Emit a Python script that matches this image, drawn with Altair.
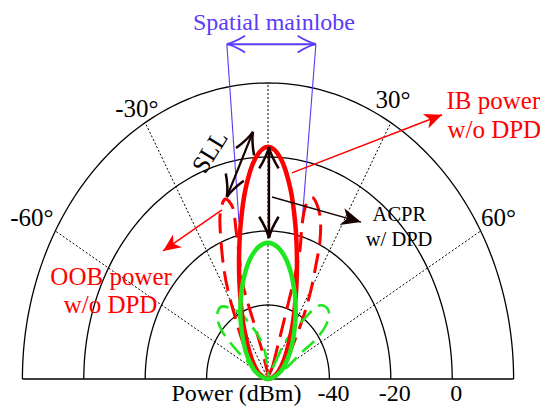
import altair as alt
import numpy as np
import pandas as pd

# ---------------- data ----------------
POLE = -60                       # dBm at the pole of the polar plot
ring_power = [-40, -20, 0, 20]   # dBm rings
tick_power = [-40, -20, 0]
tick_text = ["-40", "-20", "0"]
spoke_angle = [-60, -30, 0, 30, 60]

angle_text = ["-60°", "-30°", "30°", "60°"]
angle_x = [-76.9, -42.7, 40.7, 75.1]
angle_y = [43.5, 73.1, 75.3, 43.4]

# in-band main lobe without DPD (red, solid)
ib_angle = [-90, -65, -50, -40, -30, -25, -20, -16, -12, -8, -4, 0, 4, 8, 12, 16, 20, 25, 30, 40, 50, 65]
ib_power = [-60, -57.1, -54.1, -50.7, -44.5, -39.6, -32.9, -25.8, -17.2, -7.9, -0.3, 2.8,
            -0.3, -7.9, -17.2, -25.8, -32.9, -39.6, -44.5, -50.7, -54.1, -57.1]
# in-band main lobe with DPD (green, solid)
dpd_angle = [-90, -65, -50, -40, -30, -25, -20, -15, -10, -5, 0, 5, 10, 15, 20, 25, 30, 40, 50, 65]
dpd_power = [-60, -55.7, -51.7, -47.8, -42.2, -38.7, -34.8, -30.7, -26.9, -24.2, -23.2,
             -24.2, -26.9, -30.7, -34.8, -38.7, -42.2, -47.8, -51.7, -55.7]
# out-of-band lobes without DPD (red, dashed)
oobL_angle = [-20, -59.9, -48.7, -38.8, -33.2, -29.2, -25.9, -22.2, -19.4, -16.1, -13.9, -14.5,
              -15.7, -17.6, -17.8, -17.0, -15.5, -12.9]
oobL_power = [-60, -56.2, -52.2, -46.5, -41.0, -34.0, -27.2, -19.4, -13.0, -9.4, -12.4, -18.4,
              -25.2, -31.9, -37.6, -43.3, -49.1, -54.2]
oobR_angle = [20, 23.3, 19.5, 18.5, 17.8, 17.4, 16.6, 14.9, 14.7, 16.7, 20.9, 24.3, 26.9, 30.2,
              34.1, 39.8, 51.9, 72.8]
oobR_power = [-60, -55.9, -50.3, -44.6, -37.6, -30.6, -23.6, -16.9, -11.4, -8.9, -12.6, -18.8,
              -25.5, -32.2, -39.1, -46.3, -52.6, -57.3]
# out-of-band lobes with DPD (green, dashed)
acpL_angle = [-30, -56.5, -54.4, -52.0, -49.1, -44.7, -38.2, -32.8, -27.1, -21.5, -14.5, -7.6, -5.3]
acpL_power = [-60, -56.1, -51.2, -45.5, -40.2, -36.4, -35.2, -37.2, -40.0, -44.0, -48.3, -52.6, -56.5]
acpR_angle = [40, 27.8, 28.7, 32.1, 36.2, 38.8, 42.7, 48.1, 52.9, 55.6, 57.0, 63.1]
acpR_power = [-60, -55.1, -49.8, -44.7, -39.6, -35.0, -33.1, -33.3, -36.7, -41.8, -47.6, -53.4]

# annotation anchors (plot units)
arrow_name = ["ib_gap", "sll", "acpr", "ib", "oob", "beam"]
arrow_x0 = [0.3, -4.9, 1.3, 7.8, -15.0, -13.4]
arrow_y0 = [62.7, 66.8, 49.2, 55.7, 45.7, 90.5]
arrow_x1 = [0.3, -13.4, 30.3, 56.7, -34.2, 15.6]
arrow_y1 = [38.1, 49.2, 42.4, 71.4, 34.6, 90.5]
beam_x0 = [-13.4, 15.6]
beam_y0 = [90.5, 90.5]
beam_x1 = [-9.45, 11.1]
beam_y1 = [42.4, 42.4]

BOTTOM_Y = -5.9   # baseline of the bottom labels (plot units)
text_items = [
    ("Spatial mainlobe", 1.95, 94.3, "#5a3cf5", 24),
    ("IB power", 73.4, 73.0, "#ff0000", 25),
    ("w/o DPD", 73.7, 65.2, "#ff0000", 25),
    ("OOB power", -51.1, 25.4, "#ff0000", 25),
    ("w/o DPD", -51.3, 17.8, "#ff0000", 25),
    ("ACPR", 42.8, 42.7, "#000000", 20.5),
    ("w/ DPD", 42.7, 35.9, "#000000", 20.5),
    ("Power (dBm)", -10.3, BOTTOM_Y, "#000000", 24),
]
sll_text = ("SLL", -18.9, 61.4)

# ---------------- geometry helpers ----------------
W, H = 532, 398
XD = [-84.69, 88.60]
YD = [-7.30, 100.27]
KX = W / (XD[1] - XD[0])
KY = H / (YD[1] - YD[0])
XS = alt.Scale(domain=XD, nice=False, zero=False)
YS = alt.Scale(domain=YD, nice=False, zero=False)
FONT = "Liberation Serif, Times New Roman, serif"


def X(f="x"):
    return alt.X(f"{f}:Q", scale=XS, axis=None)


def Y(f="y"):
    return alt.Y(f"{f}:Q", scale=YS, axis=None)


def polar(angles, powers, name):
    r = np.array(powers, float) - POLE
    t = np.radians(np.array(angles, float))
    return pd.DataFrame({"x": r * np.sin(t), "y": r * np.cos(t),
                         "i": np.arange(len(r)), "s": name})


def head_angle(x0, y0, x1, y1):
    return float(np.degrees(np.arctan2((x1 - x0) * KX, (y1 - y0) * KY)) % 360)


# rings
arc = np.linspace(-90, 90, 181)
ring_df = pd.concat([polar(arc, [p] * len(arc), str(p)) for p in ring_power])
rings = alt.Chart(ring_df).mark_line(color="black", strokeWidth=1.3).encode(
    x=X(), y=Y(), detail="s:N", order="i:Q")

# spokes
rmax = ring_power[-1] - POLE
sp = pd.DataFrame({"a": spoke_angle})
sp["x"] = 0.0
sp["y"] = 0.0
sp["x2"] = rmax * np.sin(np.radians(sp["a"]))
sp["y2"] = rmax * np.cos(np.radians(sp["a"]))
spokes = alt.Chart(sp).mark_rule(color="black", strokeWidth=1, strokeDash=[2, 2]).encode(
    x=X(), y=Y(), x2="x2:Q", y2="y2:Q")

base_df = pd.DataFrame({"x": [-rmax], "y": [0.0], "x2": [rmax], "y2": [0.0]})
baseline = alt.Chart(base_df).mark_rule(color="black", strokeWidth=1.5).encode(
    x=X(), y=Y(), x2="x2:Q", y2="y2:Q")

# tick labels
tk = pd.DataFrame({"x": np.array(tick_power, float) - POLE, "y": BOTTOM_Y, "t": tick_text})
ticks = alt.Chart(tk).mark_text(font=FONT, fontSize=24, dx=4, baseline="alphabetic",
                                align="center", color="black").encode(x=X(), y=Y(), text="t:N")

al = pd.DataFrame({"x": angle_x, "y": angle_y, "t": angle_text})
alabels = alt.Chart(al).mark_text(font=FONT, fontSize=25, baseline="middle",
                                  align="center", color="black").encode(x=X(), y=Y(), text="t:N")

# lobes
red_dash_df = pd.concat([polar(oobL_angle, oobL_power, "L"), polar(oobR_angle, oobR_power, "R")])
grn_dash_df = pd.concat([polar(acpL_angle, acpL_power, "L"), polar(acpR_angle, acpR_power, "R")])
red_dash = alt.Chart(red_dash_df).mark_line(
    color="#ff0000", strokeWidth=3, strokeDash=[20, 9], interpolate="cardinal-closed").encode(
    x=X(), y=Y(), detail="s:N", order="i:Q")
grn_dash = alt.Chart(grn_dash_df).mark_line(
    color="#1fe61f", strokeWidth=2.6, strokeDash=[16, 8], interpolate="cardinal-closed").encode(
    x=X(), y=Y(), detail="s:N", order="i:Q")
red_main = alt.Chart(polar(ib_angle, ib_power, "ib")).mark_line(
    color="#ff0000", strokeWidth=4.5, interpolate="cardinal-closed").encode(
    x=X(), y=Y(), order="i:Q")
grn_main = alt.Chart(polar(dpd_angle, dpd_power, "dpd")).mark_line(
    color="#1fe61f", strokeWidth=4.5, interpolate="cardinal-closed").encode(
    x=X(), y=Y(), order="i:Q")

# arrows
ar = pd.DataFrame({"n": arrow_name, "x": arrow_x0, "y": arrow_y0, "x2": arrow_x1, "y2": arrow_y1})
ar["c"] = ["#180000", "#180000", "#180000", "#ff0000", "#ff0000", "#5a3cf5"]
ar["w"] = [2.5, 2.2, 1.5, 1.5, 1.5, 2.0]
shafts = alt.Chart(ar).mark_rule().encode(
    x=X(), y=Y(), x2="x2:Q", y2="y2:Q",
    color=alt.Color("c:N", scale=None), strokeWidth=alt.StrokeWidth("w:Q", scale=None))

bm = pd.DataFrame({"x": beam_x0, "y": beam_y0, "x2": beam_x1, "y2": beam_y1})
beams = alt.Chart(bm).mark_rule(color="#5a3cf5", strokeWidth=1.1).encode(
    x=X(), y=Y(), x2="x2:Q", y2="y2:Q")

CHEV = "M -0.5 1.1 Q -0.1 0.45 0 0 Q 0.1 0.45 0.5 1.1"
HEAD = "M 0 0 L 0.55 1.25 L 0 0.9 L -0.55 1.25 Z"

chev_rows = []
for n, x0, y0, x1, y1 in zip(arrow_name, arrow_x0, arrow_y0, arrow_x1, arrow_y1):
    if n in ("ib_gap", "sll", "beam"):
        c = "#5a3cf5" if n == "beam" else "#180000"
        s = 1100 if n == "beam" else 1500
        w = 1.8 if n == "beam" else 2.5
        chev_rows.append((x1, y1, head_angle(x0, y0, x1, y1), c, s, w))
        chev_rows.append((x0, y0, head_angle(x1, y1, x0, y0), c, s, w))
ch = pd.DataFrame(chev_rows, columns=["x", "y", "a", "c", "s", "w"])
chevrons = alt.Chart(ch).mark_point(shape=CHEV, filled=False, opacity=1).encode(
    x=X(), y=Y(), angle=alt.Angle("a:Q", scale=None),
    stroke=alt.Stroke("c:N", scale=None), size=alt.Size("s:Q", scale=None),
    strokeWidth=alt.StrokeWidth("w:Q", scale=None))

head_rows = []
for n, x0, y0, x1, y1 in zip(arrow_name, arrow_x0, arrow_y0, arrow_x1, arrow_y1):
    if n in ("acpr", "ib", "oob"):
        c = "#180000" if n == "acpr" else "#ff0000"
        s = 1000 if n == "acpr" else 800
        head_rows.append((x1, y1, head_angle(x0, y0, x1, y1), c, s))
hd = pd.DataFrame(head_rows, columns=["x", "y", "a", "c", "s"])
heads = alt.Chart(hd).mark_point(shape=HEAD, filled=True, opacity=1, strokeWidth=0).encode(
    x=X(), y=Y(), angle=alt.Angle("a:Q", scale=None),
    fill=alt.Fill("c:N", scale=None), size=alt.Size("s:Q", scale=None))

# texts
tx = pd.DataFrame(text_items, columns=["t", "x", "y", "c", "fs"])
texts = alt.Chart(tx).mark_text(font=FONT, baseline="alphabetic", align="center").encode(
    x=X(), y=Y(), text="t:N", color=alt.Color("c:N", scale=None),
    size=alt.Size("fs:Q", scale=None))
sl = pd.DataFrame({"t": [sll_text[0]], "x": [sll_text[1]], "y": [sll_text[2]]})
sll = alt.Chart(sl).mark_text(font=FONT, fontSize=25, angle=302, baseline="middle",
                              align="center", color="black").encode(x=X(), y=Y(), text="t:N")

chart = alt.layer(
    rings, spokes, baseline, beams, red_dash, grn_dash, red_main, grn_main,
    shafts, chevrons, heads, ticks, alabels, texts, sll
).properties(
    width=W, height=H, padding=0, autosize=alt.AutoSizeParams(type="none")
).configure_view(stroke=None).configure_text(font=FONT)

chart.save("out.html", embed_options={"renderer": "svg", "actions": False})
